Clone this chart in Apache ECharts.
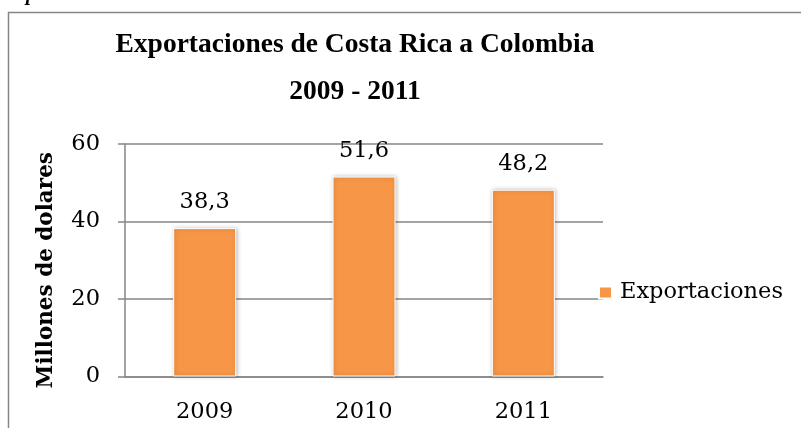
<!DOCTYPE html>
<html>
<head>
<meta charset="utf-8">
<script src="https://cdn.jsdelivr.net/npm/echarts@6/dist/echarts.min.js"></script>
<style>
  html, body { margin: 0; padding: 0; background: #fff; }
  #chart { width: 801px; height: 428px; }
</style>
</head>
<body>
<div id="chart"></div>
<script>
// Exportaciones anuales (millones de dólares)
const years = ['2009', '2010', '2011'];
const exportValues = [38.3, 51.6, 48.2];
const yTicks = { min: 0, max: 60, interval: 20 };

const seriesName = 'Exportaciones';
const titleLines = ['Exportaciones de Costa Rica a Colombia', '2009 - 2011'];
const yAxisTitle = 'Millones de dolares';

const labelFont = 'DejaVu Serif';
const titleFont = 'Liberation Serif';
const axisGray = '#868686';
const barOrange = '#F79646';

const chart = echarts.init(document.getElementById('chart'), null, { renderer: 'canvas' });

chart.setOption({
  backgroundColor: '#fff',
  animation: false,
  title: {
    text: titleLines.join('\n'),
    left: 355,
    textAlign: 'center',
    top: 21,
    padding: 0,
    textStyle: {
      fontFamily: titleFont,
      fontWeight: 'bold',
      fontSize: 27.5,
      lineHeight: 47,
      color: '#000'
    }
  },
  legend: {
    data: [seriesName],
    left: 598,
    top: 281,
    padding: 0,
    itemWidth: 13,
    itemHeight: 12,
    icon: 'rect',
    textStyle: { fontFamily: labelFont, fontSize: 22.5, color: '#000', padding: [0, 0, 0, 3] }
  },
  grid: { left: 125, right: 198, top: 144, bottom: 51.5, containLabel: false },
  xAxis: {
    type: 'category',
    data: years,
    axisLine: { show: true, lineStyle: { color: axisGray, width: 1.5 } },
    axisTick: { show: false },
    axisLabel: { fontFamily: labelFont, fontSize: 22.5, color: '#000', margin: 24 }
  },
  yAxis: {
    type: 'value',
    min: yTicks.min,
    max: yTicks.max,
    interval: yTicks.interval,
    name: yAxisTitle,
    nameLocation: 'middle',
    nameGap: 68,
    nameRotate: 90,
    nameTextStyle: {
      fontFamily: labelFont,
      fontWeight: 'bold',
      fontSize: 21.5,
      color: '#000',
      padding: [0, 20, 0, 0]
    },
    axisLine: { show: true, lineStyle: { color: axisGray, width: 1.5 } },
    axisTick: { show: true, length: 7, lineStyle: { color: axisGray, width: 1.5 } },
    splitLine: { show: true, lineStyle: { color: axisGray, width: 1.5 } },
    axisLabel: { fontFamily: labelFont, fontSize: 22.5, color: '#000', margin: 25 }
  },
  series: [{
    name: seriesName,
    type: 'bar',
    data: exportValues,
    barWidth: 63,
    itemStyle: {
      color: barOrange,
      borderColor: '#fff',
      borderWidth: 1,
      shadowColor: 'rgba(0,0,0,0.25)',
      shadowBlur: 4,
      shadowOffsetX: 1,
      shadowOffsetY: 0
    },
    label: {
      show: true,
      position: 'top',
      distance: 14,
      fontFamily: labelFont,
      fontSize: 22.5,
      color: '#000',
      formatter: p => p.value.toFixed(1).replace('.', ',')
    }
  }],
  graphic: [
    {
      type: 'rect',
      shape: { x: 8.5, y: 12.5, width: 820, height: 440 },
      style: { fill: 'none', stroke: axisGray, lineWidth: 1.5 },
      silent: true,
      z: -1
    },
    {
      type: 'text',
      x: 26,
      y: 5,
      style: { text: 'p', fontFamily: titleFont, fontStyle: 'italic', fontWeight: 'bold', fontSize: 20, fill: '#000', verticalAlign: 'bottom' }
    }
  ]
});
</script>
</body>
</html>
